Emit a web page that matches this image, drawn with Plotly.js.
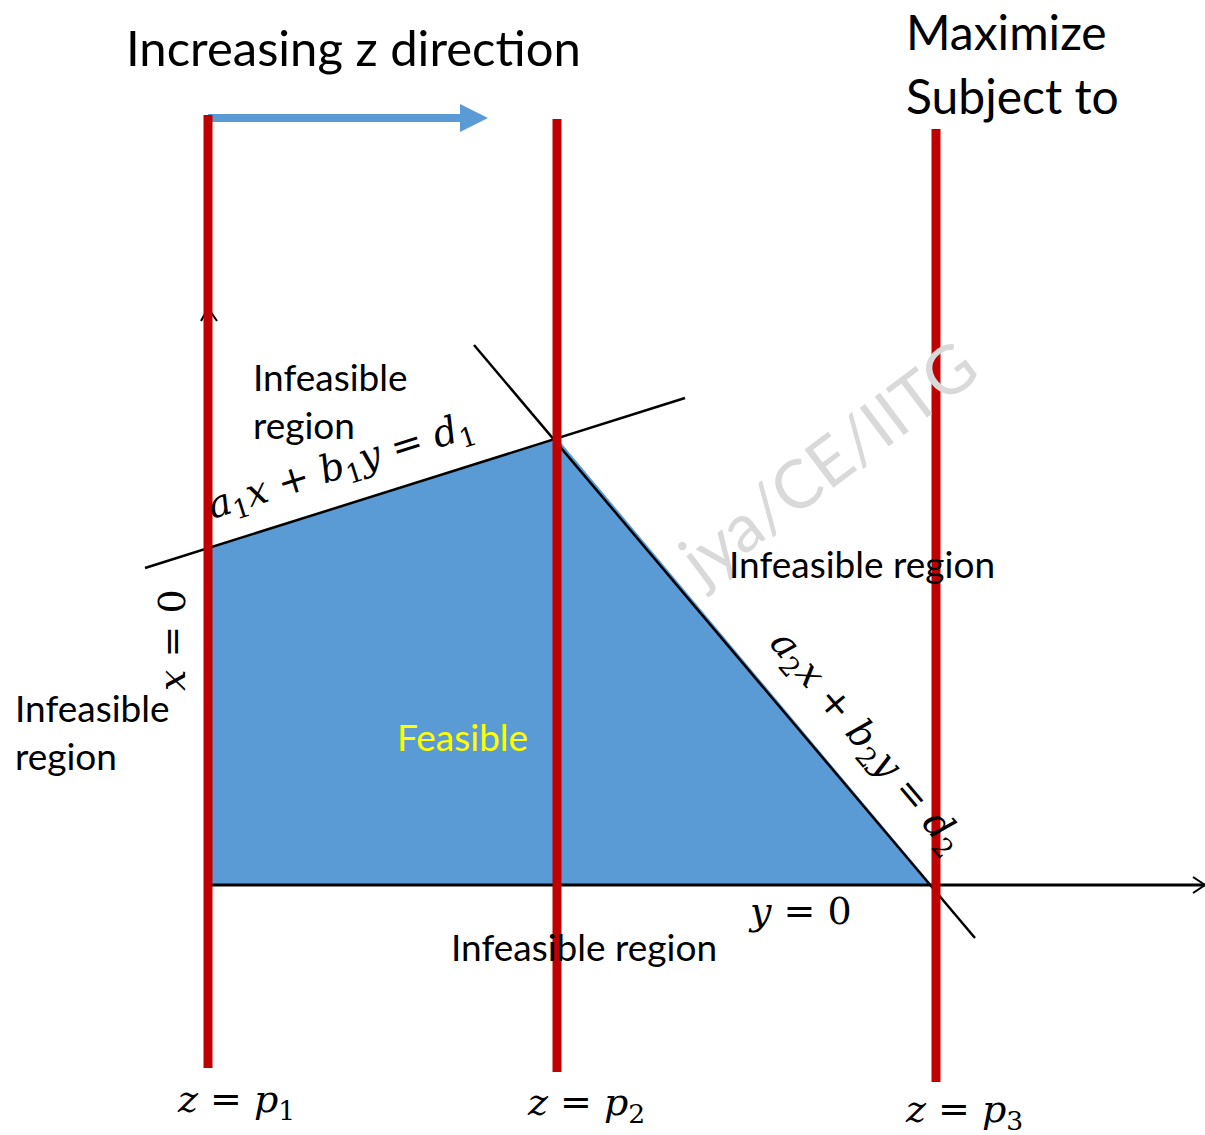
<!DOCTYPE html>
<html>
<head>
<meta charset="utf-8">
<script src="https://cdn.plot.ly/plotly-3.0.1.min.js"></script>
<style>
html,body{margin:0;padding:0;background:#ffffff;}
#chart{width:1205px;height:1135px;}
</style>
</head>
<body>
<div id="chart"></div>
<script>
// ---- diagram values (diagram units, origin where x = 0 and y = 0 meet) ----
const feasibleX = [0, 0, 3.49, 7.24, 0];
const feasibleY = [0, 3.37, 4.47, 0, 0];
const constraint1X = [-0.63, 4.77];
const constraint1Y = [3.17, 4.87];
const constraint2X = [2.66, 7.67];
const constraint2Y = [5.40, -0.53];
const xAxisX = [0, 9.97];
const xAxisY = [0, 0];
const yAxisX = [0, 0];
const yAxisY = [0, 5.77];
const zLineX = [0, 3.49, 7.28];
const zLineTop = [7.70, 7.66, 7.56];
const zLineBottom = [-1.83, -1.87, -1.97];
const zLabels = ['<i>z</i> = <i>p</i><sub>1</sub>', '<i>z</i> = <i>p</i><sub>2</sub>', '<i>z</i> = <i>p</i><sub>3</sub>'];
const directionArrowX = [0, 2.80];
const directionArrowY = [7.67, 7.67];

// ---- styles ----
const BLUE = '#5B9BD5';
const RED = '#C00000';
const SANS = 'Lato, Calibri, sans-serif';
const SERIF = '"DejaVu Serif", serif';
const W = 1205, H = 1135;
const X0 = -2.08, X1 = 9.97, Y0 = -2.50, Y1 = 8.85;
const px = v => v / W;            // pixel -> paper
const py = v => 1 - v / H;

const traces = [];
// feasible region
traces.push({x: feasibleX, y: feasibleY, mode: 'lines', fill: 'toself', fillcolor: BLUE,
  line: {width: 0, color: BLUE}, hoverinfo: 'skip', showlegend: false});
// constraint lines
traces.push({x: constraint1X, y: constraint1Y, mode: 'lines', line: {color: '#000', width: 2.5}, hoverinfo: 'skip', showlegend: false});
traces.push({x: constraint2X, y: constraint2Y, mode: 'lines', line: {color: '#000', width: 2.5}, hoverinfo: 'skip', showlegend: false});
// axes
traces.push({x: xAxisX, y: xAxisY, mode: 'lines', line: {color: '#000', width: 3}, hoverinfo: 'skip', showlegend: false});
traces.push({x: yAxisX, y: yAxisY, mode: 'lines', line: {color: '#000', width: 2.5}, hoverinfo: 'skip', showlegend: false});
// axis arrowheads (open chevrons) built from the axis ends
const hx = xAxisX[1], hyTop = yAxisY[1];
traces.push({x: [hx - 0.12, hx, hx - 0.12], y: [0.08, 0, -0.08], mode: 'lines',
  line: {color: '#000', width: 2}, hoverinfo: 'skip', showlegend: false});
traces.push({x: [-0.07, 0, 0.09], y: [hyTop - 0.13, hyTop, hyTop - 0.13], mode: 'lines',
  line: {color: '#000', width: 2}, hoverinfo: 'skip', showlegend: false});
// direction arrow
const headLen = 0.28, headHalf = 0.14;
const ax1 = directionArrowX[1], ay = directionArrowY[0];
traces.push({x: [directionArrowX[0], ax1 - headLen], y: directionArrowY, mode: 'lines',
  line: {color: BLUE, width: 8}, hoverinfo: 'skip', showlegend: false});
traces.push({x: [ax1 - headLen, ax1, ax1 - headLen, ax1 - headLen], y: [ay + headHalf, ay, ay - headHalf, ay + headHalf],
  mode: 'lines', fill: 'toself', fillcolor: BLUE, line: {width: 0, color: BLUE}, hoverinfo: 'skip', showlegend: false});
// red objective-function lines z = p1, p2, p3
zLineX.forEach((xv, i) => {
  traces.push({x: [xv, xv], y: [zLineBottom[i], zLineTop[i]], mode: 'lines',
    line: {color: RED, width: 9}, hoverinfo: 'skip', showlegend: false});
});

const annotations = [];
function txt(x, y, text, opts) {
  annotations.push(Object.assign({xref: 'paper', yref: 'paper', x: px(x), y: py(y), text: text, showarrow: false,
    xanchor: 'center', yanchor: 'middle',
    font: {family: SANS, size: 37, color: '#000'}}, opts || {}));
}
// watermark (only the part not covered by the region)
txt(826, 461, 'jya/CE/IITG', {textangle: -37, font: {family: SANS, size: 67, color: '#d9d9d9'}});

txt(353, 47, 'Increasing z direction', {font: {family: SANS, size: 49, color: '#000'}});
txt(904, 32, 'Maximize', {xanchor: 'left', font: {family: SANS, size: 48, color: '#000'}});
txt(904, 96, 'Subject to', {xanchor: 'left', font: {family: SANS, size: 48, color: '#000'}});
txt(251, 401, 'Infeasible<br>region', {xanchor: 'left', align: 'left'});
txt(13, 731, 'Infeasible<br>region', {xanchor: 'left', align: 'left'});
txt(727, 563, 'Infeasible region', {xanchor: 'left'});
txt(449, 946, 'Infeasible region', {xanchor: 'left'});
txt(462, 736, 'Feasible', {font: {family: SANS, size: 37, color: '#FFFF00'}});

const mathFont = {family: SERIF, size: 38, color: '#000'};
txt(341, 468, '<i>a</i><sub>1</sub><i>x</i> + <i>b</i><sub>1</sub><i>y</i> = <i>d</i><sub>1</sub>', {textangle: -17.5, font: mathFont});
txt(866, 742, '<i>a</i><sub>2</sub><i>x</i> + <i>b</i><sub>2</sub><i>y</i> = <i>d</i><sub>2</sub>', {textangle: 49.8, font: mathFont});
txt(172, 640, '<i>x</i> = 0', {textangle: -90, font: mathFont});
txt(800, 911, '<i>y</i> = 0', {font: mathFont});
const zLabelPix = [[236, 1101], [586, 1104], [964, 1111]];
zLabels.forEach((t, i) => txt(zLabelPix[i][0], zLabelPix[i][1], t, {font: mathFont}));

const layout = {
  width: W, height: H,
  margin: {l: 0, r: 0, t: 0, b: 0, pad: 0},
  paper_bgcolor: '#ffffff', plot_bgcolor: '#ffffff',
  xaxis: {range: [X0, X1], visible: false, fixedrange: true},
  yaxis: {range: [Y0, Y1], visible: false, fixedrange: true},
  showlegend: false,
  annotations: annotations
};
Plotly.newPlot('chart', traces, layout, {displayModeBar: false, staticPlot: true});
</script>
</body>
</html>
